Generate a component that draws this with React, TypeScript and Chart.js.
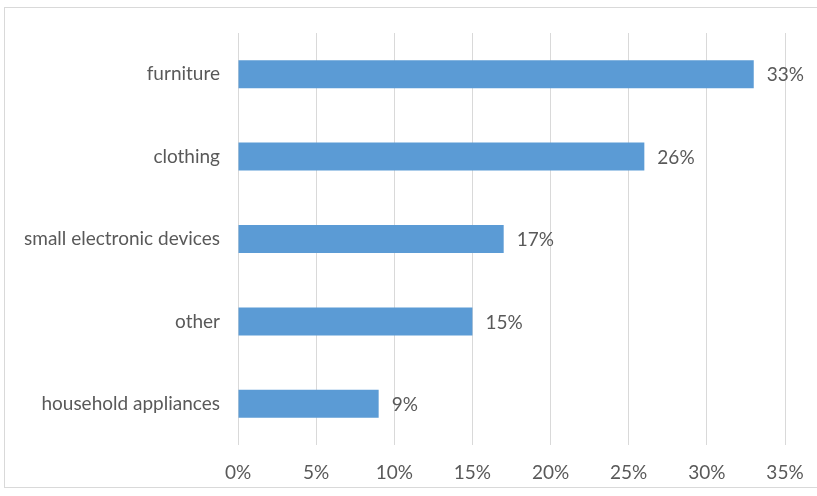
import React, { useEffect, useRef } from "react";
import { Chart, registerables } from "chart.js";

Chart.register(...registerables);

const categories = ["furniture", "clothing", "small electronic devices", "other", "household appliances"];
const shares = [33, 26, 17, 15, 9];
const xTicks = [0, 5, 10, 15, 20, 25, 30, 35];

const FONT = "Lato, 'Open Sans', sans-serif";
const TEXT = "#595959";
const SIZE = 19;

const labelPlugin = {
  id: "barLabels",
  afterDatasetsDraw(chart: any) {
    const ctx = chart.ctx;
    const meta = chart.getDatasetMeta(0);
    ctx.save();
    ctx.font = `${SIZE}px ${FONT}`;
    ctx.fillStyle = TEXT;
    ctx.textAlign = "left";
    ctx.textBaseline = "middle";
    meta.data.forEach((bar: any, i: number) => {
      ctx.fillText(`${shares[i]}%`, bar.x + 13, bar.y + 1);
    });
    ctx.restore();
  },
};

export default function App() {
  const ref = useRef<HTMLCanvasElement>(null);
  useEffect(() => {
    if (!ref.current) return;
    const chart = new Chart(ref.current, {
      type: "bar",
      data: {
        labels: categories,
        datasets: [
          {
            data: shares,
            backgroundColor: "#5B9BD5",
            borderWidth: 0,
            categoryPercentage: 1,
            barPercentage: 0.34,
          },
        ],
      },
      options: {
        indexAxis: "y",
        animation: false,
        responsive: false,
        maintainAspectRatio: false,
        layout: { padding: { left: 0, top: 33, right: 32, bottom: 0 } },
        plugins: { legend: { display: false }, tooltip: { enabled: false } },
        scales: {
          x: {
            min: 0,
            max: 35,
            afterBuildTicks: (s: any) => {
              s.ticks = xTicks.map((v) => ({ value: v }));
            },
            afterFit: (s: any) => {
              s.height = 51;
              s.paddingRight = 0;
              s.paddingLeft = 0;
            },
            grid: { color: "#D9D9D9", drawTicks: false, lineWidth: 1 },
            border: { display: false },
            ticks: {
              padding: 16,
              color: TEXT,
              font: { family: FONT, size: SIZE },
              callback: (v: any) => `${v}%`,
            },
          },
          y: {
            afterFit: (s: any) => {
              s.width = 238;
            },
            grid: { display: false, drawTicks: false },
            border: { display: false },
            ticks: {
              padding: 18,
              color: TEXT,
              font: { family: FONT, size: SIZE },
            },
          },
        },
      },
      plugins: [labelPlugin],
    });
    return () => chart.destroy();
  }, []);
  return (
    <div style={{ position: "fixed", left: 0, top: 0, width: 817, height: 496, background: "#fff", overflow: "hidden" }}>
      <div
        style={{
          position: "absolute",
          left: 4,
          top: 7,
          width: 840,
          height: 479,
          border: "1px solid #D9D9D9",
        }}
      />
      <canvas ref={ref} width={817} height={496} style={{ position: "absolute", left: 0, top: 0 }} />
    </div>
  );
}
